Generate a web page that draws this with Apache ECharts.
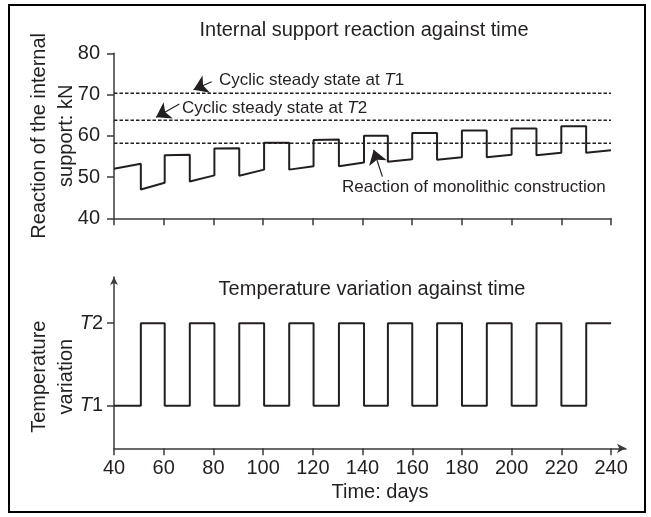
<!DOCTYPE html>
<html>
<head>
<meta charset="utf-8">
<script src="https://cdn.jsdelivr.net/npm/echarts@6/dist/echarts.min.js"></script>
<style>
  html, body { margin: 0; padding: 0; background: #fff; }
  #chart { width: 651px; height: 517px; }
</style>
</head>
<body>
<div id="chart"></div>
<script>
// 时间（天）：每一段的起止点，竖直跳变处重复一次
var days = [40, 50.8, 50.8, 60.4, 60.4, 70.5, 70.5, 80.4, 80.4, 90.4, 90.4, 100.4, 100.4, 110.5, 110.5,
    120.3, 120.3, 130.5, 130.5, 140.6, 140.6, 150.2, 150.2, 160, 160, 170, 170, 180, 180, 190, 190,
    200, 200, 210, 210, 220, 220, 230, 230, 240];

// 中间支座反力 kN
var reactionKN = [52.0, 53.2, 47.0, 48.6, 55.3, 55.4, 48.9, 50.4, 56.9, 57.0,
    50.3, 51.8, 58.3, 58.3, 51.8, 52.6, 59.0, 59.1, 52.6, 53.5,
    60.0, 60.0, 53.7, 54.3, 60.7, 60.7, 54.2, 54.8, 61.3, 61.3,
    54.8, 55.4, 61.8, 61.8, 55.3, 55.9, 62.3, 62.3, 55.9, 56.5];

// 温度：1 = T1, 2 = T2
var tempLevel = [1, 1, 2, 2, 1, 1, 2, 2, 1, 1, 2, 2, 1, 1, 2, 2, 1, 1, 2, 2,
    1, 1, 2, 2, 1, 1, 2, 2, 1, 1, 2, 2, 1, 1, 2, 2, 1, 1, 2, 2];

// 参考水平线
var steadyT1 = 70.3;
var steadyT2 = 63.8;
var monolithic = 58.2;

var dayTicks = [40, 60, 80, 100, 120, 140, 160, 180, 200, 220, 240];
var tempTicks = [1, 2];

var INK = '#231f20';
var AXIS = '#3a3a3a';
var FONT = '"Liberation Sans", Arial, Helvetica, sans-serif';

function pairs (xs, ys) {
    return xs.map(function (x, i) { return [x, ys[i]]; });
}

function hLine (v) {
    return [[40, v], [240, v]];
}

function dashedSeries (v) {
    return {
        type: 'line',
        xAxisIndex: 0,
        yAxisIndex: 0,
        data: hLine(v),
        showSymbol: false,
        silent: true,
        lineStyle: { color: INK, width: 1.5, type: [3.5, 2] }
    };
}

function annText (x, y, text) {
    return {
        type: 'text',
        x: x,
        y: y,
        style: {
            text: text,
            fontSize: 17,
            fontFamily: FONT,
            fill: INK,
            verticalAlign: 'middle',
            rich: { i: { fontStyle: 'italic', fontSize: 17, fontFamily: FONT, fill: INK } }
        }
    };
}

var chart = echarts.init(document.getElementById('chart'), null, { renderer: 'canvas' });

var option = {
    animation: false,
    backgroundColor: '#fff',
    textStyle: { fontFamily: FONT, color: INK },
    title: [
        {
            text: 'Internal support reaction against time',
            left: 364, top: 20, padding: 0, textAlign: 'center',
            textStyle: { fontSize: 20, fontWeight: 'normal', color: INK, fontFamily: FONT }
        },
        {
            text: 'Temperature variation against time',
            left: 372, top: 279, padding: 0, textAlign: 'center',
            textStyle: { fontSize: 20, fontWeight: 'normal', color: INK, fontFamily: FONT }
        }
    ],
    grid: [
        { left: 114, right: 40, top: 53.3, height: 165, outerBoundsMode: 'none' },
        { left: 114, right: 25, top: 277, bottom: 68.7, outerBoundsMode: 'none' }
    ],
    xAxis: [
        {
            gridIndex: 0, type: 'value', min: 40, max: 240, interval: 20,
            axisLine: { show: true, lineStyle: { color: AXIS, width: 1.5 } },
            axisTick: { show: true, inside: false, length: 7, lineStyle: { color: AXIS, width: 1.5 } },
            axisLabel: { show: false },
            splitLine: { show: false }
        },
        {
            gridIndex: 1, type: 'value', min: 40, max: 246,
            axisLine: { show: true, symbol: ['none', 'arrow'], symbolSize: [7, 9], lineStyle: { color: AXIS, width: 1.5 } },
            axisTick: { show: true, inside: false, length: 7, customValues: dayTicks, lineStyle: { color: AXIS, width: 1.5 } },
            axisLabel: { customValues: dayTicks, fontSize: 20, color: INK, margin: 10, fontFamily: FONT },
            splitLine: { show: false },
            name: 'Time: days',
            nameLocation: 'middle',
            nameGap: 34,
            nameMoveOverlap: false,
            nameTextStyle: { fontSize: 20, color: INK, fontFamily: FONT, padding: [0, 0, 0, 20] }
        }
    ],
    yAxis: [
        {
            gridIndex: 0, type: 'value', min: 40, max: 80, interval: 10,
            axisLine: { show: true, lineStyle: { color: AXIS, width: 1.5 } },
            axisTick: { show: true, inside: false, length: 7, lineStyle: { color: AXIS, width: 1.5 } },
            axisLabel: { fontSize: 20, color: INK, margin: 14, fontFamily: FONT },
            splitLine: { show: false },
            name: 'Reaction of the internal\nsupport: kN',
            nameLocation: 'middle',
            nameGap: 34,
            nameMoveOverlap: false,
            nameTextStyle: { fontSize: 20, lineHeight: 27, color: INK, fontFamily: FONT }
        },
        {
            gridIndex: 1, type: 'value', min: 0.483, max: 2.56,
            axisLine: { show: true, symbol: ['none', 'arrow'], symbolSize: [6, 8], lineStyle: { color: AXIS, width: 1.5 } },
            axisTick: { show: true, inside: false, length: 7, customValues: tempTicks, lineStyle: { color: AXIS, width: 1.5 } },
            axisLabel: {
                customValues: tempTicks,
                fontSize: 20, color: INK, margin: 11, fontFamily: FONT,
                formatter: function (v) { return '{i|T}' + v; },
                rich: { i: { fontStyle: 'italic', fontSize: 20, color: INK, fontFamily: FONT } }
            },
            splitLine: { show: false },
            name: 'Temperature\nvariation',
            nameLocation: 'middle',
            nameGap: 34,
            nameMoveOverlap: false,
            nameTextStyle: { fontSize: 20, lineHeight: 27, color: INK, fontFamily: FONT, padding: [0, 28, 0, 0] }
        }
    ],
    series: [
        dashedSeries(steadyT1),
        dashedSeries(steadyT2),
        dashedSeries(monolithic),
        {
            name: 'reaction',
            type: 'line',
            xAxisIndex: 0,
            yAxisIndex: 0,
            data: pairs(days, reactionKN),
            showSymbol: false,
            lineStyle: { color: INK, width: 2 },
            markLine: {
                silent: true,
                symbol: ['none', 'arrow'],
                symbolSize: 14,
                label: { show: false },
                lineStyle: { color: INK, width: 1.2, type: 'solid' },
                data: [
                    [{ coord: [79.3, 73.1] }, { coord: [72.0, 71.15] }],
                    [{ coord: [66.3, 67.7] }, { coord: [56.9, 64.5] }],
                    [{ coord: [148.0, 50.1] }, { coord: [144.5, 56.6] }]
                ]
            }
        },
        {
            name: 'temperature',
            type: 'line',
            xAxisIndex: 1,
            yAxisIndex: 1,
            data: pairs(days, tempLevel),
            showSymbol: false,
            lineStyle: { color: INK, width: 2 }
        }
    ],
    graphic: [
        {
            type: 'rect',
            shape: { x: 9, y: 5, width: 636, height: 507 },
            style: { fill: 'none', stroke: '#000', lineWidth: 2 },
            silent: true
        },
        annText(219, 80, 'Cyclic steady state at {i|T}1'),
        annText(182, 108, 'Cyclic steady state at {i|T}2'),
        annText(342, 187, 'Reaction of monolithic construction')
    ]
};

chart.setOption(option);
window.onresize = function () {
    chart.resize();
};
</script>
</body>
</html>
